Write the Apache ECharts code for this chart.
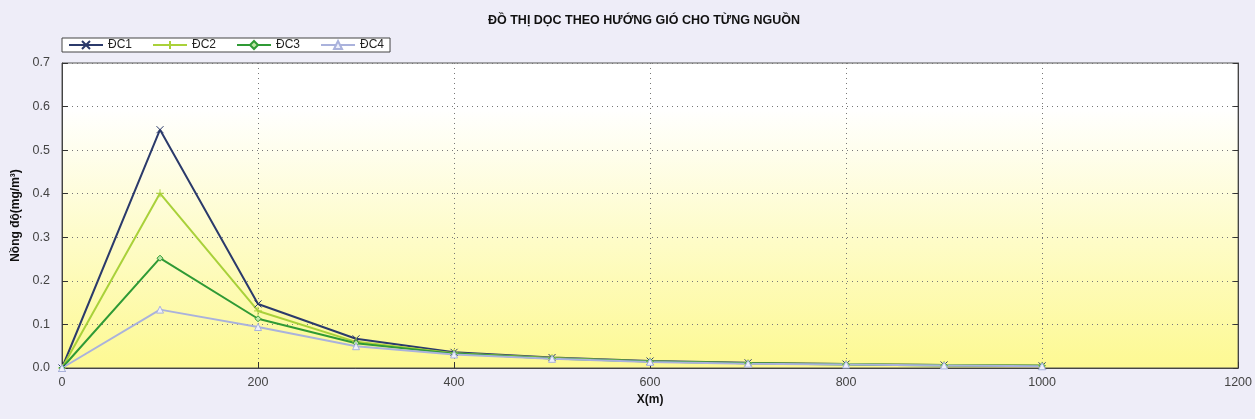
<!DOCTYPE html>
<html>
<head>
<meta charset="utf-8">
<script src="https://cdn.jsdelivr.net/npm/echarts@6/dist/echarts.min.js"></script>
<style>
html,body{margin:0;padding:0;background:#eeedf8;}
#c{width:1255px;height:419px;}
</style>
</head>
<body>
<div id="c"></div>
<script>
const xValues = [0, 100, 200, 300, 400, 500, 600, 700, 800, 900, 1000];
const dc1 = [0, 0.547, 0.147, 0.067, 0.036, 0.024, 0.016, 0.012, 0.009, 0.007, 0.005];
const dc2 = [0, 0.401, 0.131, 0.060, 0.034, 0.023, 0.015, 0.011, 0.009, 0.007, 0.005];
const dc3 = [0, 0.252, 0.113, 0.057, 0.033, 0.022, 0.015, 0.011, 0.008, 0.006, 0.005];
const dc4 = [0, 0.134, 0.094, 0.050, 0.031, 0.021, 0.014, 0.010, 0.008, 0.006, 0.004];
const seriesNames = ['ĐC1', 'ĐC2', 'ĐC3', 'ĐC4'];

const colors = ['#2b3a6b', '#a9d13a', '#2f9a35', '#aab2dc'];
const symX = 'path://M0,0L10,10M10,0L0,10';
const symPlus = 'path://M5,0L5,10M0,5L10,5';
const pairs = arr => xValues.map((x, i) => [x, arr[i]]);

const chart = echarts.init(document.getElementById('c'));
const font = 'Liberation Sans, Arial, sans-serif';
function mk(name, data, color, symbol, size, extra) {
  return Object.assign({
    name: name, type: 'line', data: pairs(data),
    symbol: symbol, symbolSize: size, showSymbol: true,
    lineStyle: {color: color, width: 2},
    itemStyle: {color: color, borderColor: color, borderWidth: 1},
    emphasis: {disabled: true}
  }, extra || {});
}
chart.setOption({
  backgroundColor: '#eeedf8',
  animation: false,
  color: colors,
  title: {
    text: 'ĐỒ THỊ DỌC THEO HƯỚNG GIÓ CHO TỪNG NGUỒN',
    left: 483, top: 9,
    textStyle: {fontFamily: font, fontSize: 12.5, fontWeight: 'bold', color: '#111'}
  },
  legend: {
    left: 62, top: 38,
    orient: 'horizontal',
    backgroundColor: '#ffffff',
    borderColor: '#444', borderWidth: 1,
    padding: [1, 6, 1, 6],
    itemGap: 20, itemWidth: 34, itemHeight: 10,
    textStyle: {fontFamily: font, fontSize: 12, color: '#222'},
    data: seriesNames
  },
  grid: {
    left: 62, right: 12, top: 63, bottom: 51,
    show: true,
    borderColor: '#555', borderWidth: 1,
    backgroundColor: new echarts.graphic.LinearGradient(0, 0, 0, 1, [
      {offset: 0, color: '#ffffff'},
      {offset: 0.15, color: '#ffffff'},
      {offset: 1, color: '#fdf992'}
    ])
  },
  xAxis: {
    type: 'value', min: 0, max: 1200, interval: 200,
    name: 'X(m)', nameLocation: 'middle', nameGap: 24,
    nameTextStyle: {fontFamily: font, fontSize: 12, fontWeight: 'bold', color: '#111'},
    axisLine: {lineStyle: {color: '#444'}},
    axisTick: {show: true, length: 6, inside: true, lineStyle: {color: '#333'}},
    axisLabel: {fontFamily: font, fontSize: 12.5, color: '#444', margin: 8,
      formatter: v => String(v)},
    splitLine: {show: true, lineStyle: {color: '#777', type: [1, 4], width: 1}}
  },
  yAxis: [{
    type: 'value', min: 0, max: 0.7, interval: 0.1,
    name: 'Nồng độ(mg/m³)', nameLocation: 'middle', nameGap: 35,
    nameTextStyle: {fontFamily: font, fontSize: 12, fontWeight: 'bold', color: '#111'},
    axisLine: {show: true, lineStyle: {color: '#444'}},
    axisTick: {show: true, length: 6, inside: true, lineStyle: {color: '#333'}},
    axisLabel: {fontFamily: font, fontSize: 12.5, color: '#444', margin: 12,
      formatter: v => v.toFixed(1)},
    splitLine: {show: true, lineStyle: {color: '#777', type: [1, 4], width: 1}}
  }, {
    type: 'value', min: 0, max: 0.7, interval: 0.1, position: 'right',
    axisLine: {show: true, lineStyle: {color: '#444'}},
    axisTick: {show: true, length: 5, inside: true, lineStyle: {color: '#333'}},
    axisLabel: {show: false},
    splitLine: {show: false}
  }],
  series: [
    mk('ĐC1', dc1, colors[0], symX, 7),
    mk('ĐC2', dc2, colors[1], symPlus, 8),
    mk('ĐC3', dc3, colors[2], 'diamond', 6, {itemStyle: {color: '#bfe6a6', borderColor: colors[2], borderWidth: 1}}),
    mk('ĐC4', dc4, colors[3], 'triangle', 7, {itemStyle: {color: '#eef0fb', borderColor: colors[3], borderWidth: 1}})
  ]
});
</script>
</body>
</html>
